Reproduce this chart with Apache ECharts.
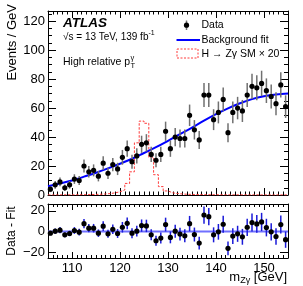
<!DOCTYPE html>
<html><head><meta charset="utf-8">
<script src="https://cdn.jsdelivr.net/npm/echarts@6/dist/echarts.min.js"></script>
<style>html,body{margin:0;padding:0;background:#fff}#c{width:303px;height:286px}</style>
</head><body><div id="c"></div>
<script>
// ---------------- data ----------------
const massBins = [105.5,106.5,107.5,108.5,109.5,110.5,111.5,112.5,113.5,114.5,
  115.5,116.5,117.5,118.5,119.5,120.5,121.5,122.5,123.5,124.5,
  125.5,126.5,127.5,128.5,129.5,130.5,131.5,132.5,133.5,134.5,
  135.5,136.5,137.5,138.5,139.5,140.5,141.5,142.5,143.5,144.5,
  145.5,146.5,147.5,148.5,149.5,150.5,151.5,152.5,153.5,154.5];
const dataCounts = [4,7,9,5,7,11,10,20,16,17,
  13,22,15,21,18,26,32,23,27,35,
  36,28,24,28,44,32,40,39,39,55,
  45,38,69,69,52,57,66,43,57,60,
  58,69,75,74,77,72,68,63,76,61];
const residuals = [-1.6,0.3,1.3,-3.2,-1.9,1.0,-0.6,7.6,3.2,3.2,
  -1.6,5.1,-2.2,2.2,-1.9,4.1,7.9,-1.6,0.3,5.7,
  5.4,-3.2,-8.9,-6.3,6.7,-5.7,0.3,-2.5,-4.1,7.6,
  -2.9,-11.1,15.9,14.3,-3.2,-0.3,7.0,-16.2,-4.4,-2.2,
  -5.1,4.1,8.6,7.3,9.2,3.8,-0.3,-4.8,6.7,-7.9];
const signalX20 = [0.05,0.05,0.1,0.1,0.1,0.15,0.2,0.2,0.3,0.4,
  0.5,0.7,1.0,1.5,2.2,3.5,8,16,36,51,
  49.5,26,14,5.8,2.8,1.5,1.0,0.7,0.5,0.4,
  0.3,0.3,0.2,0.2,0.2,0.15,0.15,0.1,0.1,0.1,
  0.1,0.1,0.1,0.05,0.05,0.05,0.05,0.05,0.05,0.05];
const fitMass = [105,107.5,110,112.5,115,117.5,120,122.5,125,127.5,130,132.5,135,137.5,140,142.5,145,147.5,150,152.5,155];
const fitValues = [6,7.9,10,12.7,15.4,18.4,21.6,25,29,33,37.4,42,46.5,51.3,55.8,59.8,63.3,66.2,68.2,69.4,70];
const xMajorTicks = [110,120,130,140,150];
const yMainTicks = [0,20,40,60,80,100,120];
const yRatioTicks = [-20,0,20];

// ---------------- helpers ----------------
const FONT = '"Liberation Sans", Arial, Helvetica, sans-serif';
const xMinorTicks = []; for (let t = 105; t <= 155; t++) xMinorTicks.push(t);
const yMainMinor = []; for (let t = 0; t <= 125; t += 5) yMainMinor.push(t);
const mctx = document.createElement('canvas').getContext('2d');
function tw(text, font) { mctx.font = font; return mctx.measureText(text).width; }

function xAxisSet(grid, labels, majLen, minLen) {
  const base = {gridIndex: grid, type: 'value', min: 105, max: 155, splitLine: {show: false}};
  const line = {show: true, onZero: false, lineStyle: {color: '#000', width: 1}};
  return [
    Object.assign({}, base, {position: 'bottom', axisLine: line,
      axisTick: {show: true, inside: true, length: majLen, customValues: xMajorTicks, lineStyle: {color: '#000', width: 1}},
      axisLabel: {show: labels, customValues: xMajorTicks, color: '#000', fontSize: 13, fontFamily: FONT, margin: 4}}),
    Object.assign({}, base, {position: 'bottom', axisLine: {show: false, onZero: false},
      axisTick: {show: true, inside: true, length: minLen, customValues: xMinorTicks, lineStyle: {color: '#000', width: 1}},
      axisLabel: {show: false}}),
    Object.assign({}, base, {position: 'top', axisLine: line,
      axisTick: {show: true, inside: true, length: majLen, customValues: xMajorTicks, lineStyle: {color: '#000', width: 1}},
      axisLabel: {show: false}}),
    Object.assign({}, base, {position: 'top', axisLine: {show: false, onZero: false},
      axisTick: {show: true, inside: true, length: minLen, customValues: xMinorTicks, lineStyle: {color: '#000', width: 1}},
      axisLabel: {show: false}})
  ];
}
function yAxisSet(grid, min, max, major, minor, fmt) {
  const base = {gridIndex: grid, type: 'value', min: min, max: max, splitLine: {show: false}};
  const line = {show: true, onZero: false, lineStyle: {color: '#000', width: 1}};
  const out = [
    Object.assign({}, base, {position: 'left', axisLine: line,
      axisTick: {show: true, inside: true, length: 8, customValues: major, lineStyle: {color: '#000'}},
      axisLabel: {show: true, customValues: major, color: '#000', fontSize: 13, fontFamily: FONT, margin: 3, formatter: fmt}}),
    Object.assign({}, base, {position: 'right', axisLine: line,
      axisTick: {show: true, inside: true, length: 8, customValues: major, lineStyle: {color: '#000'}},
      axisLabel: {show: false}})
  ];
  if (minor) {
    out.push(Object.assign({}, base, {position: 'left', axisLine: {show: false, onZero: false},
      axisTick: {show: true, inside: true, length: 4, customValues: minor, lineStyle: {color: '#000'}}, axisLabel: {show: false}}));
    out.push(Object.assign({}, base, {position: 'right', axisLine: {show: false, onZero: false},
      axisTick: {show: true, inside: true, length: 4, customValues: minor, lineStyle: {color: '#000'}}, axisLabel: {show: false}}));
  }
  return out;
}
function errRender(barColor) {
  return function (params, api) {
    const x = api.value(0), y = api.value(1), e = api.value(2);
    const p = api.coord([x, y]);
    const lo = api.coord([x, y - e]);
    const hi = api.coord([x, y + e]);
    return {type: 'group', children: [
      {type: 'line', shape: {x1: p[0], y1: lo[1], x2: p[0], y2: hi[1]}, style: {stroke: barColor, lineWidth: 1.5}},
      {type: 'circle', shape: {cx: p[0], cy: p[1], r: 2.6}, style: {fill: '#000'}}
    ]};
  };
}

const dataPts = massBins.map((m, i) => [m, dataCounts[i], Math.sqrt(dataCounts[i])]);
const residPts = massBins.map((m, i) => [m, residuals[i], Math.sqrt(dataCounts[i])]);
const sigLine = massBins.map((m, i) => [m - 0.5, signalX20[i]]).concat([[massBins[massBins.length - 1] + 0.5, signalX20[signalX20.length - 1]]]);
const fitLine = fitMass.map((m, i) => [m, fitValues[i]]);

const minusFmt = v => (v < 0 ? '\u2212' + (-v) : '' + v);

// ---------------- text layout ----------------
const f13 = '13px ' + FONT, f9 = '9px ' + FONT, f105 = '10.5px ' + FONT, f7 = '7.5px ' + FONT;
const graphics = [];
graphics.push({type: 'text', x: 63, y: 23, style: {text: 'ATLAS', font: 'italic bold 13.5px ' + FONT, fill: '#000', verticalAlign: 'middle'}});
const s1 = '\u221As = 13 TeV, 139 fb';
graphics.push({type: 'text', x: 63, y: 37, style: {text: s1, font: '10px ' + FONT, fill: '#000', verticalAlign: 'middle'}});
graphics.push({type: 'text', x: 63 + tw(s1, '10px ' + FONT), y: 33, style: {text: '-1', font: '7px ' + FONT, fill: '#000', verticalAlign: 'middle'}});
const s2 = 'High relative p';
graphics.push({type: 'text', x: 63, y: 62, style: {text: s2, font: f105, fill: '#000', verticalAlign: 'middle'}});
const s2w = tw(s2, f105);
graphics.push({type: 'text', x: 63 + s2w + 0.5, y: 58, style: {text: '\u03B3', font: f7, fill: '#000', verticalAlign: 'middle'}});
graphics.push({type: 'text', x: 63 + s2w + 0.5, y: 66, style: {text: 'T', font: f7, fill: '#000', verticalAlign: 'middle'}});
// legend
graphics.push({type: 'line', shape: {x1: 186.5, y1: 20.5, x2: 186.5, y2: 30}, style: {stroke: '#707070', lineWidth: 1.5}});
graphics.push({type: 'circle', shape: {cx: 186.5, cy: 25.2, r: 2.6}, style: {fill: '#000'}});
graphics.push({type: 'text', x: 201.5, y: 25, style: {text: 'Data', font: f105, fill: '#000', verticalAlign: 'middle'}});
graphics.push({type: 'line', shape: {x1: 176.5, y1: 40, x2: 200, y2: 40}, style: {stroke: '#0000ff', lineWidth: 2}});
graphics.push({type: 'text', x: 201.5, y: 40, style: {text: 'Background fit', font: f105, fill: '#000', verticalAlign: 'middle'}});
graphics.push({type: 'rect', shape: {x: 177, y: 49, width: 21, height: 9}, style: {fill: 'none', stroke: '#ff3b3b', lineWidth: 1, lineDash: [2, 1.5]}});
graphics.push({type: 'text', x: 201.5, y: 54, style: {text: 'H \u2192 Z\u03B3 SM \u00D7 20', font: f105, fill: '#000', verticalAlign: 'middle'}});
// axis titles
graphics.push({type: 'text', x: 12, y: 4, rotation: Math.PI / 2, style: {text: 'Events / GeV', font: f13, fill: '#000', align: 'right', verticalAlign: 'middle'}});
graphics.push({type: 'text', x: 12, y: 231, rotation: Math.PI / 2, style: {text: 'Data - Fit', font: '12px ' + FONT, fill: '#000', align: 'center', verticalAlign: 'middle'}});
const xt1 = 'm', xt2 = 'Z\u03B3', xt3 = ' [GeV]';
const w1 = tw(xt1, f13), w2 = tw(xt2, f9), w3 = tw(xt3, f13);
const xr = 287, xStart = xr - (w1 + w2 + w3);
graphics.push({type: 'text', x: xStart, y: 277, style: {text: xt1, font: f13, fill: '#000', verticalAlign: 'middle'}});
graphics.push({type: 'text', x: xStart + w1, y: 281, style: {text: xt2, font: f9, fill: '#000', verticalAlign: 'middle'}});
graphics.push({type: 'text', x: xStart + w1 + w2, y: 277, style: {text: xt3, font: f13, fill: '#000', verticalAlign: 'middle'}});

// ---------------- chart ----------------
const chart = echarts.init(document.getElementById('c'), null, {renderer: 'canvas'});
const xAxes = xAxisSet(0, false, 7, 3.5).concat(xAxisSet(1, true, 6, 3));
const yAxes = yAxisSet(0, 0, 127, yMainTicks, yMainMinor, minusFmt).concat(yAxisSet(1, -25.5, 26.5, yRatioTicks, null, minusFmt));
chart.setOption({
  animation: false,
  backgroundColor: '#fff',
  grid: [
    {left: 48, top: 11, width: 240, height: 184, outerBoundsMode: 'none'},
    {left: 48, top: 204, width: 240, height: 54, outerBoundsMode: 'none'}
  ],
  xAxis: xAxes,
  yAxis: yAxes,
  series: [
    {type: 'line', xAxisIndex: 0, yAxisIndex: 0, data: sigLine, step: 'end', showSymbol: false, symbol: 'none',
      lineStyle: {color: '#ff3b3b', width: 1, type: [2.5, 1.5]}, z: 2},
    {type: 'line', xAxisIndex: 0, yAxisIndex: 0, data: fitLine, smooth: 0.4, showSymbol: false, symbol: 'none',
      lineStyle: {color: '#0000ff', width: 2}, z: 3},
    {type: 'custom', xAxisIndex: 0, yAxisIndex: 0, data: dataPts, renderItem: errRender('#707070'), z: 4},
    {type: 'line', xAxisIndex: 4, yAxisIndex: 4, data: [[105, 0], [155, 0]], showSymbol: false, symbol: 'none',
      lineStyle: {color: '#7070ff', width: 2}, z: 2},
    {type: 'custom', xAxisIndex: 4, yAxisIndex: 4, data: residPts, renderItem: errRender('#1a1ad8'), z: 4}
  ],
  graphic: graphics
});
</script></body></html>
